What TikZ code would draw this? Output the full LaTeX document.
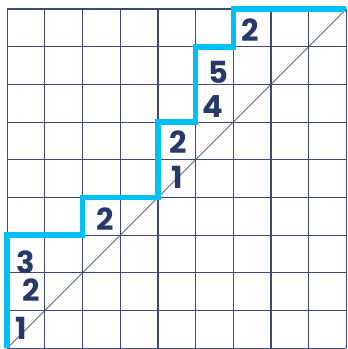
\documentclass[tikz,border=0pt]{standalone}
\usepackage{fontspec}
\newfontfamily\handfont{Poppins}
\definecolor{gridline}{RGB}{62,74,118}
\definecolor{pathblue}{RGB}{0,192,245}
\definecolor{digit}{RGB}{38,58,104}
\tikzset{
  stair/.style={pathblue,line width=4.2pt},
  num/.style={digit,font=\handfont\fontsize{23}{23}\selectfont\bfseries,inner sep=0pt}
}
\begin{document}
\begin{tikzpicture}[scale=1.0]
\useasboundingbox (-0.19,-0.02) rectangle (9.04,9.24);
\draw[gridline,line width=0.9pt] (0,0) grid (9,9);
\draw[gridline,line width=0.45pt] (0,0) -- (9,9);
\draw[stair] (0,0) |- (2,3) |- (4,4) |- (5,6) |- (6,8) |- (9,9);
\node[num] (a1) at (0.36,0.54) {1};
\node[num] (a2) at (0.63,1.55) {2};
\node[num] (a3) at (0.48,2.28) {3};
\node[num] (b2) at (2.6,3.42) {2};
\node[num] (c1) at (4.5,4.54) {1};
\node[num] (c2) at (4.54,5.47) {2};
\node[num] (d4) at (5.46,6.42) {4};
\node[num] (d5) at (5.6,7.32) {5};
\node[num] (e2) at (6.45,8.45) {2};
\end{tikzpicture}
\end{document}
